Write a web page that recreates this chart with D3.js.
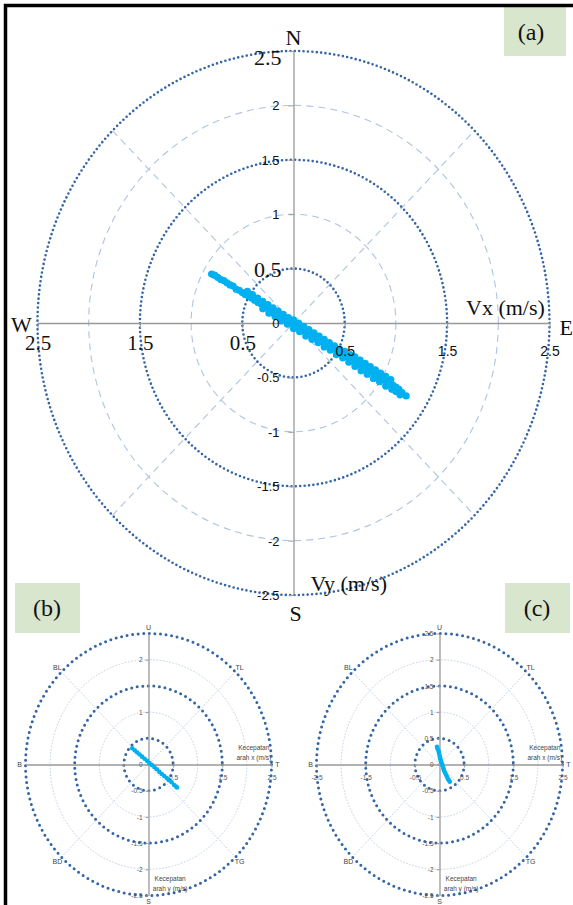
<!DOCTYPE html>
<html>
<head>
<meta charset="utf-8">
<script src="https://cdn.jsdelivr.net/npm/d3@7"></script>
<style>
body { margin: 0; background: #fff; }
</style>
</head>
<body>
<div id="chart"></div>
<script>
// rings and ticks (m/s)
var ringsMajor = [0.5, 1.5, 2.5];
var ringsMinor = [1, 2];
var yTicks = [-2.5, -2, -1.5, -1, -0.5, 0, 0.5, 1, 1.5, 2, 2.5];
var yTicksB = [-2.5, -2, -1.5, -1, -0.5, 0, 1, 2];
var xTicks = [-2.5, -1.5, -0.5, 0.5, 1.5, 2.5];
var xTicksB = [0.5, 1.5, 2.5];

var compassA = ["N", "E", "S", "W"];
var compassBC = ["U", "TL", "T", "TG", "S", "BD", "B", "BL"];
var titlesA = ["Vx (m/s)", "Vy (m/s)"];
var titlesBC = [["Kecepatan", "arah x (m/s)"], ["Kecepatan", "arah y (m/s)"]];
var panelNames = ["(a)", "(b)", "(c)"];

// velocity samples [vx, vy]
var pointsA = [
  [-0.80,0.45],[-0.77,0.44],[-0.74,0.42],[-0.71,0.40],[-0.68,0.39],[-0.65,0.37],[-0.62,0.35],[-0.59,0.34],
  [-0.56,0.31],[-0.53,0.30],[-0.50,0.28],[-0.47,0.26],[-0.44,0.25],[-0.41,0.23],[-0.38,0.21],[-0.35,0.19],
  [-0.32,0.18],[-0.29,0.16],[-0.26,0.14],[-0.23,0.12],[-0.20,0.10],[-0.17,0.09],[-0.14,0.07],[-0.11,0.05],
  [-0.08,0.04],[-0.05,0.02],[-0.02,0.00],[0.01,-0.02],[0.04,-0.03],[0.07,-0.05],[0.10,-0.07],[0.13,-0.08],
  [0.16,-0.10],[0.19,-0.12],[0.22,-0.14],[0.25,-0.15],[0.28,-0.17],[0.31,-0.19],[0.34,-0.21],[0.37,-0.22],
  [0.40,-0.24],[0.43,-0.26],[0.46,-0.28],[0.49,-0.29],[0.52,-0.31],[0.55,-0.33],[0.58,-0.35],[0.61,-0.36],
  [0.64,-0.38],[0.67,-0.40],[0.70,-0.42],[0.73,-0.43],[0.76,-0.45],[0.79,-0.47],[0.82,-0.49],[0.85,-0.50],
  [0.88,-0.52],[0.91,-0.54],[0.94,-0.56],[0.97,-0.57],[1.00,-0.59],[1.03,-0.61],
  [-0.45,0.29],[-0.40,0.26],[-0.35,0.23],[-0.30,0.20],[-0.25,0.17],[-0.20,0.14],[-0.15,0.11],[-0.10,0.08],
  [-0.05,0.05],[0.00,0.03],[0.05,0.00],[0.10,-0.03],[0.15,-0.06],[0.20,-0.09],[0.25,-0.12],[0.30,-0.15],
  [0.35,-0.18],[0.40,-0.21],[0.45,-0.24],[0.50,-0.26],[0.55,-0.29],[0.60,-0.31],[0.65,-0.34],[0.70,-0.37],
  [0.75,-0.40],[0.80,-0.43],[0.85,-0.46],[0.90,-0.49],[0.95,-0.52],
  [-0.30,0.13],[-0.24,0.09],[-0.18,0.06],[-0.12,0.02],[-0.06,-0.01],[0.00,-0.05],[0.06,-0.08],[0.12,-0.12],
  [0.18,-0.15],[0.24,-0.18],[0.30,-0.22],[0.36,-0.25],[0.42,-0.29],[0.48,-0.32],[0.54,-0.36],[0.60,-0.40],
  [0.66,-0.44],[0.72,-0.47],[0.78,-0.51],[0.84,-0.54],[0.90,-0.58],[0.96,-0.61],[1.00,-0.63],
  [1.04,-0.66],[1.06,-0.64],[1.10,-0.67]
];
var pointsB = [
  [-0.33,0.31],[-0.28,0.27],[-0.23,0.23],[-0.18,0.19],[-0.13,0.15],[-0.08,0.11],[-0.03,0.07],[0.02,0.03],
  [0.07,-0.01],[0.12,-0.05],[0.17,-0.09],[0.22,-0.14],[0.27,-0.18],[0.32,-0.22],[0.37,-0.26],[0.42,-0.30],
  [0.47,-0.34],[0.52,-0.39],[0.56,-0.42],[0.58,-0.44]
];
var pointsC = [
  [-0.05,0.34],[-0.04,0.30],[-0.02,0.26],[-0.01,0.22],[0.00,0.18],[0.01,0.14],[0.02,0.10],[0.03,0.06],
  [0.05,0.02],[0.06,-0.02],[0.08,-0.07],[0.09,-0.11],[0.11,-0.15],[0.13,-0.19],[0.15,-0.23],[0.17,-0.27],
  [0.19,-0.30],[0.21,-0.33]
];

var serif = "'Liberation Serif', 'Times New Roman', serif";
var sans = "'Liberation Sans', Arial, sans-serif";
var darkBlue = "#3465a4", lightBlue = "#aec4e0", dotColor = "#00b0f0";

var svg = d3.select("#chart").append("svg")
  .attr("width", 573).attr("height", 905)
  .style("display", "block");

svg.append("rect").attr("width", 573).attr("height", 905).attr("fill", "#fff");

function fmt(d) { return String(d); }

function drawPolar(o) {
  var x = d3.scaleLinear().domain([-2.5, 2.5]).range([o.cx - o.rx, o.cx + o.rx]);
  var y = d3.scaleLinear().domain([-2.5, 2.5]).range([o.cy + o.ry, o.cy - o.ry]);
  var g = svg.append("g");

  // light grid: rings 1, 2 and the diagonals
  g.selectAll("ellipse.minor").data(ringsMinor).enter().append("ellipse")
    .attr("cx", x(0)).attr("cy", y(0))
    .attr("rx", d => x(d) - x(0)).attr("ry", d => y(0) - y(d))
    .attr("fill", "none").attr("stroke", lightBlue)
    .attr("stroke-width", o.minorW).attr("stroke-dasharray", o.minorDash);

  var dg = 2.5 * Math.SQRT1_2;
  g.selectAll("line.diag").data([1, -1]).enter().append("line")
    .attr("x1", x(-dg)).attr("y1", d => y(-dg * d))
    .attr("x2", x(dg)).attr("y2", d => y(dg * d))
    .attr("stroke", lightBlue)
    .attr("stroke-width", o.minorW).attr("stroke-dasharray", o.minorDash);

  g.selectAll("ellipse.major").data(ringsMajor).enter().append("ellipse")
    .attr("cx", x(0)).attr("cy", y(0))
    .attr("rx", d => x(d) - x(0)).attr("ry", d => y(0) - y(d))
    .attr("fill", "none").attr("stroke", darkBlue)
    .attr("stroke-width", o.majorW).attr("stroke-linecap", "round")
    .attr("stroke-dasharray", o.majorDash);

  var xAxis = d3.axisBottom(x).tickValues(o.xTicks).tickSize(o.tick).tickSizeOuter(0).tickFormat(o.xFmt);
  var yAxis = d3.axisLeft(y).tickValues(o.yTicks).tickSize(o.tick).tickSizeOuter(0).tickFormat(fmt);

  // axis lines
  var gx = g.append("g").attr("transform", "translate(0," + y(0) + ")").call(xAxis);
  var gy = g.append("g").attr("transform", "translate(" + x(0) + ",0)").call(yAxis);
  [gx, gy].forEach(function(a) {
    a.attr("color", "#999");
    a.selectAll("text").remove();
    a.select(".domain").attr("stroke-width", 1.3);
  });

  g.selectAll("circle.pt").data(o.pts).enter().append("circle")
    .attr("cx", d => x(d[0])).attr("cy", d => y(d[1]))
    .attr("r", o.ptR).attr("fill", dotColor);

  // tick labels on top of the samples
  var lx = g.append("g").attr("transform", "translate(0," + y(0) + ")").call(xAxis);
  lx.select(".domain").remove();
  lx.selectAll("line").remove();
  lx.selectAll("text").each(function(d) {
    var s = o.xStyle(d);
    d3.select(this).attr("dy", 0).attr("y", s.y)
      .attr("font-family", s.f).attr("font-size", s.s).attr("fill", o.textColor);
  });

  var ly = g.append("g").attr("transform", "translate(" + x(0) + ",0)").call(yAxis);
  ly.select(".domain").remove();
  ly.selectAll("line").remove();
  ly.selectAll("text").each(function(d) {
    var s = o.yStyle(d);
    d3.select(this).attr("dy", s.dy).attr("x", s.x)
      .attr("font-family", s.f).attr("font-size", s.s).attr("fill", o.textColor);
  });

  return {x: x, y: y, g: g};
}

var pa = drawPolar({
  cx: 293.5, cy: 323, rx: 256, ry: 272, tick: 5,
  minorW: 1.1, minorDash: "7 5", majorW: 2.6, majorDash: "0 4.4",
  xTicks: xTicks, yTicks: yTicks, xFmt: d => String(Math.abs(d)),
  pts: pointsA, ptR: 3.6, textColor: "#111",
  xStyle: d => d < 0 ? {f: serif, s: 21, y: 27} : {f: sans, s: 14, y: 33},
  yStyle: d => (d === 2.5 || d === 0.5)
    ? {f: serif, s: 22, x: -12, dy: d === 2.5 ? "0.62em" : "0.38em"}
    : {f: sans, s: 13, x: -14, dy: "0.34em"}
});

var smallOpts = {
  cy: 764.5, rx: 123, ry: 131, tick: 3,
  minorW: 0.8, minorDash: "1.6 1.6", majorW: 3, majorDash: "0 5.6",
  ptR: 2.3, textColor: "#555",
  xStyle: d => ({f: sans, s: 6.5, y: 15}),
  yStyle: d => ({f: sans, s: 6.5, x: -6, dy: "0.34em"})
};

var pb = drawPolar(Object.assign({}, smallOpts, {
  cx: 148.5, xTicks: xTicksB, yTicks: yTicksB, xFmt: fmt, pts: pointsB
}));
var pc = drawPolar(Object.assign({}, smallOpts, {
  cx: 439.5, xTicks: xTicks, yTicks: yTicks, xFmt: fmt, pts: pointsC
}));

// panel (a) compass and axis titles
var ta = pa.g.append("g").attr("font-family", serif).attr("font-size", 22).attr("fill", "#111");
ta.append("text").attr("x", pa.x(0)).attr("y", pa.y(2.5) - 6).attr("text-anchor", "middle").text(compassA[0]);
ta.append("text").attr("x", pa.x(2.5) + 10).attr("y", pa.y(0) + 12).text(compassA[1]);
ta.append("text").attr("x", pa.x(0) + 2).attr("y", pa.y(-2.5) + 26).attr("text-anchor", "middle").text(compassA[2]);
ta.append("text").attr("x", pa.x(-2.5) - 16).attr("y", pa.y(0) + 9).attr("text-anchor", "middle").text(compassA[3]);
ta.append("text").attr("x", pa.x(2.07)).attr("y", pa.y(0) - 8).attr("text-anchor", "middle").text(titlesA[0]);
ta.append("text").attr("x", pa.x(0.54)).attr("y", pa.y(-2.5) - 4).attr("text-anchor", "middle").text(titlesA[1]);

// panels (b), (c) compass and axis titles
[pb, pc].forEach(function(p) {
  var t = p.g.append("g").attr("font-family", sans).attr("fill", "#444");
  t.selectAll("text.cmp").data(compassBC).enter().append("text")
    .attr("x", (d, i) => p.x(2.62 * Math.cos(Math.PI / 2 - i * Math.PI / 4)))
    .attr("y", (d, i) => p.y(2.62 * Math.sin(Math.PI / 2 - i * Math.PI / 4)))
    .attr("dy", "0.35em").attr("text-anchor", "middle").attr("font-size", 7)
    .text(d => d);
  titlesBC[0].forEach(function(s, i) {
    t.append("text").attr("x", p.x(2.14)).attr("y", p.y(0) - 15 + i * 10.5)
      .attr("text-anchor", "middle").attr("font-size", 6.5).text(s);
  });
  titlesBC[1].forEach(function(s, i) {
    t.append("text").attr("x", p.x(0.44)).attr("y", p.y(-2.5) - 15 + i * 10.5)
      .attr("text-anchor", "middle").attr("font-size", 6.5).text(s);
  });
});

// panel name boxes
var boxes = [[504, 7, 62, 49, 531, 40], [15, 583, 65, 50, 47, 616], [505, 583, 65, 50, 537, 616]];
boxes.forEach(function(b, i) {
  svg.append("rect").attr("x", b[0]).attr("y", b[1]).attr("width", b[2]).attr("height", b[3])
    .attr("fill", "#d8e6cd");
  svg.append("text").attr("x", b[4]).attr("y", b[5]).attr("text-anchor", "middle")
    .attr("font-family", serif).attr("font-size", 24).attr("fill", "#111").text(panelNames[i]);
});

// frame
svg.append("path").attr("d", "M5.5,905V5.5H573").attr("fill", "none")
  .attr("stroke", "#000").attr("stroke-width", 3.5);
</script>
</body>
</html>
